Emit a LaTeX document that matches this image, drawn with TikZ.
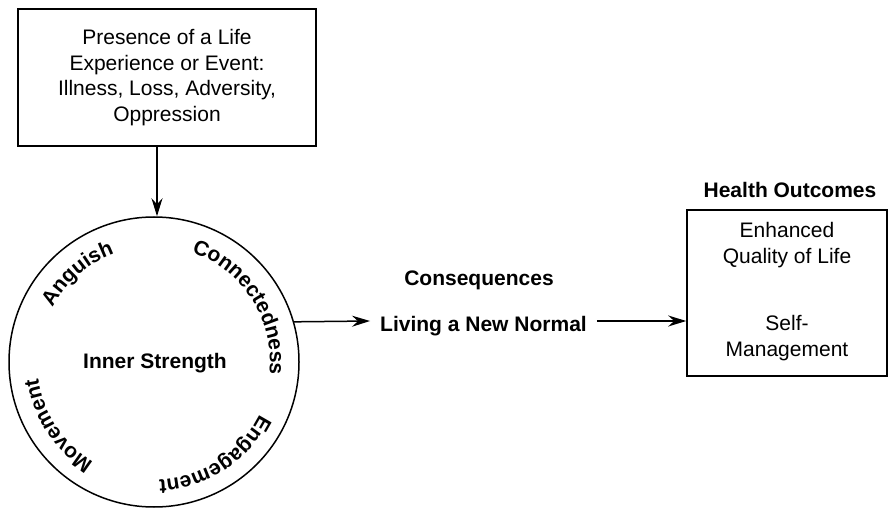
\documentclass[tikz,border=0pt]{standalone}
\usepackage{fontspec}
\setmainfont{Liberation Sans}
\usetikzlibrary{arrows.meta,decorations.text}
\newcommand\circfont{\fontsize{21}{25.7}\selectfont\bfseries}
\begin{document}
\begin{tikzpicture}[x=1pt,y=1pt,
  box/.style={draw, line width=1.6pt, inner sep=0pt},
  lbl/.style={font=\fontsize{21}{25.7}\selectfont, align=center},
  blbl/.style={font=\fontsize{21}{25.7}\selectfont\bfseries, align=center},
  arr/.style={-{Stealth[length=18pt,width=11pt,inset=6pt]}, line width=1.5pt},
  circword/.style={decorate, decoration={text along path, text align=center, text={#1}}}
]
\useasboundingbox (0,0) rectangle (888,509);

% top box
\node[box, lbl, minimum width=298pt, minimum height=137pt] (top) at (167,431.5)
  {Presence of a Life\\Experience or Event:\\Illness, Loss, Adversity,\\Oppression};

% circle
\node[draw, circle, line width=1.5pt, minimum size=290pt, inner sep=0pt] (circ) at (154,147) {};
\node[blbl] (inner) at (155,146) {Inner Strength};

\path[circword={|\circfont|Anguish}] (circ.center) ++(201:115) arc[start angle=201, end angle=61, radius=115];
\path[circword={|\circfont|Connectedness}] (circ.center) ++(102.5:116) arc[start angle=102.5, end angle=-37.5, radius=116];
\path[circword={|\circfont|Engagement}] (circ.center) ++(13:118) arc[start angle=13, end angle=-127, radius=118];
\path[circword={|\circfont|Movement}] (circ.center) ++(-76.5:117) arc[start angle=-76.5, end angle=-216.5, radius=117];

% consequences
\node[blbl] (cons) at (479,229) {Consequences};
\node[blbl, text depth=0pt, inner xsep=10pt] (living) at (483.5,185) {Living a New Normal};

% health outcomes
\node[blbl] (ho) at (790,319) {Health Outcomes};
\node[box, minimum width=200pt, minimum height=166pt] (rbox) at (787,216) {};
\node[lbl] (hq) at (787,264) {Enhanced\\Quality of Life};
\node[lbl] (sm) at (787,171) {Self-\\Management};

% connectors
\coordinate (ax) at (157,0);
\draw[arr] (top.south -| ax) -- (circ.north -| ax);
\draw[arr] (circ.16.4) -- ([yshift=3pt]living.west);
\draw[arr] ([yshift=3pt]living.east) -- ([yshift=3pt]living.east -| rbox.west);
\end{tikzpicture}
\end{document}
